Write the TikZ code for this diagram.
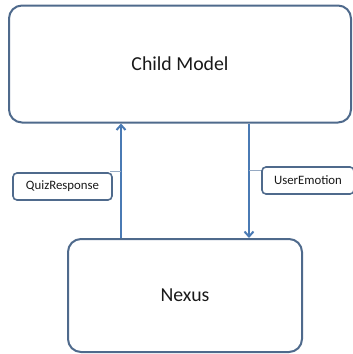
\documentclass[tikz,border=0pt]{standalone}
\usepackage{fontspec}
\setmainfont{Carlito}
\usetikzlibrary{arrows.meta,calc,positioning}
\definecolor{boxline}{RGB}{79,106,140}
\definecolor{flowline}{RGB}{74,122,180}
\definecolor{tagline}{RGB}{150,170,195}

\begin{document}
\begin{tikzpicture}[x=1pt, y=-1pt, >={Straight Barb[length=5pt,width=9pt]},
  block/.style={draw=boxline, line width=2pt, rounded corners=13pt, text=black!90,
    font=\fontsize{19.8}{22}\selectfont},
  tag/.style={draw=boxline, line width=1.6pt, rounded corners=4pt, fill=white, text=black!90,
    font=\fontsize{12.8}{14}\selectfont},
  flow/.style={->, draw=flowline, line width=2pt},
  lead/.style={draw=tagline, line width=0.8pt}]
  \useasboundingbox (0,0) rectangle (353,354);

  % Child model on top
  \node[block, minimum width=342pt, minimum height=117pt] (child) at (180,64) {Child Model};
  % Nexus below, running off the bottom
  \node[block, minimum width=234pt, minimum height=113pt] (nexus) at (185,295.5) {Nexus};

  % Message arrows
  \coordinate (qx) at (121,0);
  \coordinate (ex) at (249,0);
  \draw[flow] (nexus.north -| qx) -- (child.south -| qx);
  \draw[flow] (child.south -| ex) -- (nexus.north -| ex);

  % Message labels
  \coordinate (qlead) at (110,171.5);
  \coordinate (elead) at (263,170);
  \draw[lead] (qlead) -- (qlead -| qx);
  \draw[lead] (elead) -- (elead -| ex);
  \node[tag, minimum width=99pt, minimum height=27pt] (quiz) at (62.5,186.5) {QuizResponse};
  \node[tag, minimum width=92pt, minimum height=27pt] (emo) at (308,180.5) {UserEmotion};
\end{tikzpicture}
\end{document}
